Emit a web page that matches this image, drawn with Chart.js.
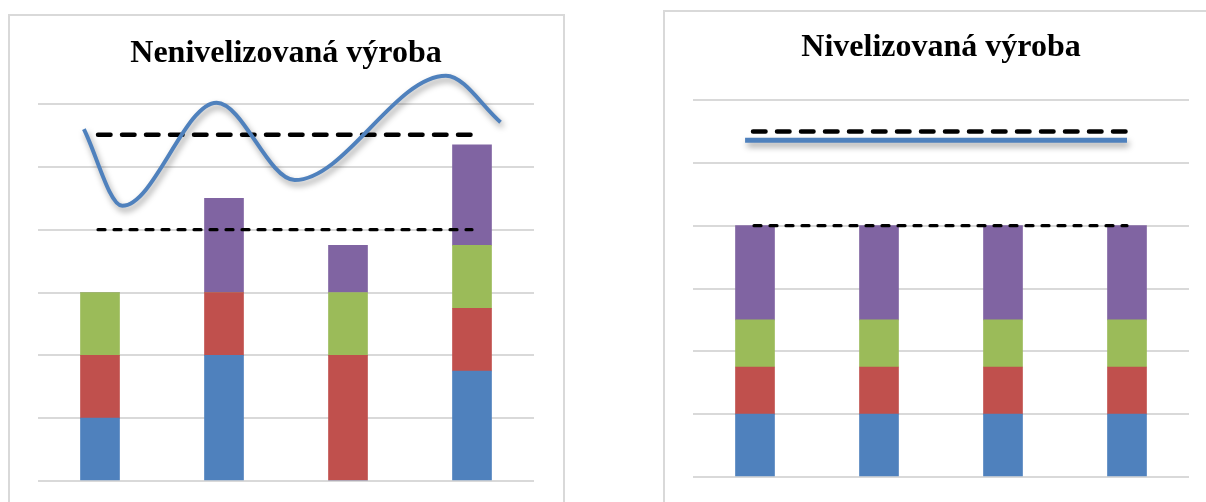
<!DOCTYPE html>
<html>
<head>
<meta charset="utf-8">
<script src="https://cdn.jsdelivr.net/npm/chart.js@4/dist/chart.umd.min.js"></script>
<style>
  html, body { margin: 0; padding: 0; background: #fff; width: 1206px; height: 502px; overflow: hidden; }
  .frame { position: absolute; box-sizing: border-box; border: 2px solid #d9d9d9; background: #fff; }
  canvas { position: absolute; top: 0; }
</style>
</head>
<body>
<div class="frame" style="left:8px; top:14px; width:557px; height:600px;"></div>
<div class="frame" style="left:663px; top:10px; width:700px; height:600px;"></div>
<canvas id="left" width="600" height="502" style="left:0px;"></canvas>
<canvas id="right" width="606" height="502" style="left:600px;"></canvas>
<script>
// Categories (four production periods; labels are not shown)
const categories = ['1', '2', '3', '4'];

// Unlevelled production: stacked amounts per product
const rawBlue   = [1, 2, 0, 1.75];
const rawRed    = [1, 1, 2, 1];
const rawGreen  = [1, 0, 1, 1];
const rawPurple = [0, 1.5, 0.75, 1.6];

// Levelled production: identical mix every period
const levBlue   = [1, 1, 1, 1];
const levRed    = [0.75, 0.75, 0.75, 0.75];
const levGreen  = [0.75, 0.75, 0.75, 0.75];
const levPurple = [1.5, 1.5, 1.5, 1.5];

// Fluctuating demand curve (x in category units, 0 = first bar)
const rawDemandX = [-0.13, 0.18, 0.94, 1.57, 2.79, 3.23];
const rawDemandY = [5.6, 4.38, 6.02, 4.79, 6.45, 5.71];

// Flat demand for the levelled case
const levDemandX = [-0.08, 3.0];
const levDemandY = [5.36, 5.36];

// Reference levels: capacity (upper dashed) and average load (lower dashed)
const rawCapX = [-0.016, 3.016];
const rawCapY = [5.51, 5.51];
const rawAvgX = [-0.016, 3.0];
const rawAvgY = [4.0, 4.0];

const levCapX = [-0.016, 3.02];
const levCapY = [5.5, 5.5];
const levAvgX = [-0.008, 3.0];
const levAvgY = [4.0, 4.0];

// Y axis ticks (gridlines only)
const yMin = 0, yMax = 6, yStep = 1;

const COLORS = { blue: '#4f81bd', red: '#c0504d', green: '#9bbb59', purple: '#8064a2' };

const toPoints = (xs, ys) => xs.map((x, i) => ({ x, y: ys[i] }));
// Bars sit at category index 0..3 on the shared numeric x axis
const toBars = (values) => categories.map((c, i) => ({ x: i, y: values[i] }));

// Soft drop shadow under the demand lines
const softShadow = {
  id: 'softShadow',
  beforeDatasetDraw(chart, args) {
    if (chart.data.datasets[args.index].shadow) {
      const c = chart.ctx;
      c.save();
      c.shadowColor = 'rgba(0,0,0,0.38)';
      c.shadowBlur = 6;
      c.shadowOffsetX = 2;
      c.shadowOffsetY = 4;
    }
  },
  afterDatasetDraw(chart, args) {
    if (chart.data.datasets[args.index].shadow) chart.ctx.restore();
  }
};

// Lines share both axes with the bars but each sits in its own stack,
// so they are never summed with anything else.
function lineSet(points, stack, opts) {
  return Object.assign({
    type: 'line',
    data: points,
    stack: stack,
    borderColor: '#000',
    pointRadius: 0,
    fill: false,
    clip: false,
    order: 0
  }, opts);
}

function barSet(values, color) {
  return {
    type: 'bar',
    data: toBars(values),
    stack: 'production',
    backgroundColor: color,
    borderWidth: 0,
    barThickness: 39,
    order: 1
  };
}

function build(canvasId, title, bars, demand, demandOpts, cap, avg, pad, titlePad) {
  return new Chart(document.getElementById(canvasId), {
    data: {
      datasets: [
        lineSet(demand, 'demand', Object.assign({ borderColor: COLORS.blue, shadow: true }, demandOpts)),
        lineSet(cap, 'capacity', { borderWidth: 4.5, borderDash: [12.5, 11.5], borderCapStyle: 'round' }),
        lineSet(avg, 'average', { borderWidth: 3.2, borderDash: [7, 9], borderCapStyle: 'round' }),
        barSet(bars[0], COLORS.blue),
        barSet(bars[1], COLORS.red),
        barSet(bars[2], COLORS.green),
        barSet(bars[3], COLORS.purple)
      ]
    },
    options: {
      responsive: false,
      animation: false,
      events: [],
      layout: { padding: pad },
      plugins: {
        legend: { display: false },
        tooltip: { enabled: false },
        title: {
          display: true,
          text: title,
          color: '#000',
          font: { family: "'Liberation Serif', 'Times New Roman', serif", size: 32, weight: 'bold' },
          padding: titlePad
        }
      },
      scales: {
        x: {
          type: 'linear', min: -0.5, max: categories.length - 0.5, offset: false,
          stacked: true, display: false, ticks: { stepSize: 1, includeBounds: false }
        },
        y: {
          type: 'linear',
          stacked: true,
          min: yMin, max: yMax,
          ticks: { display: false, stepSize: yStep },
          grid: { color: '#d9d9d9', lineWidth: 2, drawTicks: false },
          border: { display: false }
        }
      }
    },
    plugins: [softShadow]
  });
}

build('left', 'Nenivelizovaná výroba',
  [rawBlue, rawRed, rawGreen, rawPurple],
  toPoints(rawDemandX, rawDemandY),
  { borderWidth: 4, cubicInterpolationMode: 'monotone' },
  toPoints(rawCapX, rawCapY), toPoints(rawAvgX, rawAvgY),
  { left: 38, right: 66, top: 0, bottom: 21 },
  { top: 34.8, bottom: 30.8 });

build('right', 'Nivelizovaná výroba',
  [levBlue, levRed, levGreen, levPurple],
  toPoints(levDemandX, levDemandY),
  { borderWidth: 5, borderCapStyle: 'butt' },
  toPoints(levCapX, levCapY), toPoints(levAvgX, levAvgY),
  { left: 93, right: 17, top: 0, bottom: 25 },
  { top: 28.8, bottom: 32.8 });
</script>
</body>
</html>
